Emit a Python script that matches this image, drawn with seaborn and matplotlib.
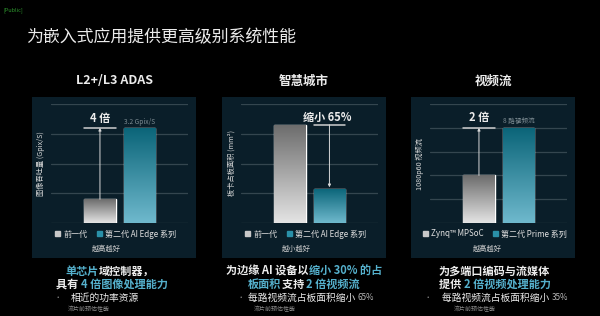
import numpy as np
import matplotlib
matplotlib.use('Agg')
import matplotlib.pyplot as plt
import matplotlib.patches as mpatches
from matplotlib.colors import to_rgb
import seaborn as sns

# 数据
panel_titles = ["L2+/L3 ADAS", "智慧城市", "视频流"]
adas_cats = ["前一代", "第二代 AI Edge 系列"]
adas_values = [0.8, 3.2]
city_cats = ["前一代", "第二代 AI Edge 系列"]
city_values = [3.3, 1.15]
video_cats = ["Zynq™ MPSoC", "第二代 Prime 系列"]
video_values = [4, 8]
y_labels = ["图像吞吐量 (Gpix/S)", "板卡占板面积 (mm²)", "1080p60 视频流"]
y_max = [4, 4, 10]
y_step = [1, 1, 2]
better_text = ["越高越好", "越小越好", "越高越好"]

sns.set_theme(style="white")
plt.rcParams['font.family'] = ['Noto Sans CJK SC', 'DejaVu Sans']

W, H = 600, 316
fig = plt.figure(figsize=(6, 3.16), dpi=100)
fig.patch.set_facecolor('black')

PANEL_BG = '#0a1e29'
GRID = '#34464f'
TEAL_TXT = '#55b0cc'
WHITE = '#ececec'


def fx(px):
    return px / W


def fy(py):
    return 1 - py / H


def gradient_bar(ax, patch, top_color, bottom_color):
    x0, y0 = patch.get_x(), patch.get_y()
    w, h = patch.get_width(), patch.get_height()
    n = 128
    b = np.array(to_rgb(bottom_color))
    t = np.array(to_rgb(top_color))
    k = np.linspace(0, 1, n)[:, None]
    img = (b * (1 - k) + t * k)[:, None, :]
    im = ax.imshow(img, extent=[x0, x0 + w, y0, y0 + h], origin='lower',
                   aspect='auto', zorder=3, interpolation='bilinear')
    im.set_clip_path(patch)


# 标题
fig.text(fx(3), fy(10), "[Public]", color='#2f9a2f', fontsize=4, va='center')
fig.text(fx(26), fy(37), "为嵌入式应用提供更高级别系统性能", color=WHITE,
         fontsize=12.2, va='center', fontweight='medium')

cats_all = [adas_cats, city_cats, video_cats]
vals_all = [adas_values, city_values, video_values]
offsets = [0, 190, 379]

axes = []
for i in range(3):
    off = offsets[i]
    # 面板背景
    fig.add_artist(mpatches.Rectangle((fx(32 + off), fy(258)), 164 / W, 161 / H,
                                      transform=fig.transFigure, facecolor=PANEL_BG,
                                      edgecolor='none', zorder=-1))
    fig.text(fx(114 + off), fy(81), panel_titles[i], color=WHITE, fontsize=9,
             ha='center', va='center', fontweight='bold')

    ax = fig.add_axes([fx(51 + off), fy(223), 137 / W, 119 / H])
    ax.set_facecolor('none')
    sns.barplot(x=cats_all[i], y=vals_all[i], hue=cats_all[i],
                palette=['#b0b0b0', '#2a8ea6'], legend=False, width=0.8,
                ax=ax, zorder=2)
    bars = ax.patches
    gradient_bar(ax, bars[0], '#6c6c6c', '#e4e4e4')
    gradient_bar(ax, bars[1], '#0a6478', '#6fb9cd')
    ax.set_xlim(-1.24, 2.23)
    ax.set_ylim(0, y_max[i])
    ax.set_yticks(np.arange(0, y_max[i] + 0.01, y_step[i]))
    ax.yaxis.grid(True, color=GRID, lw=0.9)
    ax.xaxis.grid(False)
    ax.set_axisbelow(True)
    for s in ax.spines.values():
        s.set_visible(False)
    ax.tick_params(left=False, bottom=False, labelleft=False, labelbottom=False)
    ax.set_xlabel("")
    ax.set_ylabel(y_labels[i], color='#d8d8d8', fontsize=5.2, labelpad=4,
                  fontweight='medium')

    handles = [mpatches.Patch(color='#c8c8c8'), mpatches.Patch(color='#2a90a8')]
    legend_cx = [115.5, 305.5, 495][i]
    leg = ax.legend(handles, cats_all[i], loc='center',
                    bbox_to_anchor=(fx(legend_cx), fy(234)),
                    bbox_transform=fig.transFigure, ncol=2, frameon=False,
                    handlelength=0.6, handleheight=0.6, columnspacing=1.2,
                    handletextpad=0.4, fontsize=5.8)
    for t in leg.get_texts():
        t.set_color('#e0e0e0')
    fig.text(fx([106, 296, 487][i]), fy(249), better_text[i], color='#d0d0d0',
             fontsize=5.2, style='italic', ha='center', va='center')
    axes.append(ax)

arrow_kw = dict(arrowstyle='-|>', color='#d8d8d8', lw=0.7, mutation_scale=4,
                shrinkA=0, shrinkB=0)

# ADAS 注释
ax = axes[0]
ax.plot([-0.4, 0.4], [adas_values[1], adas_values[1]], color='#cfcfcf', lw=1.1, zorder=4)
ax.annotate("", xy=(0, adas_values[1]), xytext=(0, adas_values[0]),
            arrowprops=arrow_kw, zorder=4)
ax.text(0, 3.5, "4 倍", color=WHITE, fontsize=8, fontweight='bold',
        ha='center', va='center')
ax.text(1, 3.27, "3.2 Gpix/S", color='#7d8c93', fontsize=4.8, ha='center', va='bottom')

# 智慧城市注释
ax = axes[1]
ax.plot([0.6, 1.4], [city_values[0], city_values[0]], color='#cfcfcf', lw=1.1, zorder=4)
ax.annotate("", xy=(1, city_values[1] + 0.05), xytext=(1, city_values[0]),
            arrowprops=arrow_kw, zorder=4)
ax.text(0.95, 3.56, "缩小 65%", color=WHITE, fontsize=8, fontweight='bold',
        ha='center', va='center')

# 视频流注释
ax = axes[2]
ax.plot([-0.4, 0.4], [video_values[1], video_values[1]], color='#cfcfcf', lw=1.1, zorder=4)
ax.annotate("", xy=(0, video_values[1]), xytext=(0, video_values[0]),
            arrowprops=arrow_kw, zorder=4)
ax.text(0, 8.9, "2 倍", color=WHITE, fontsize=8, fontweight='bold',
        ha='center', va='center')
ax.text(1, 8.2, "8 路视频流", color='#7d8c93', fontsize=4.8, ha='center', va='bottom')

# 底部文字
renderer = fig.canvas.get_renderer()


def rich_line(x, y, pieces, size, weight='medium', align='center'):
    texts, widths = [], []
    for s, c, sz in pieces:
        t = fig.text(0, fy(y), s, color=c, fontsize=sz or size, fontweight=weight,
                     ha='left', va='center')
        texts.append(t)
        widths.append(t.get_window_extent(renderer).width)
    total = sum(widths)
    cur = x - total / 2 if align == 'center' else x
    for t, w in zip(texts, widths):
        t.set_x(fx(cur))
        cur += w


rich_line(110, 271, [("单芯片", TEAL_TXT, None), ("域控制器，", WHITE, None)], 8, 'bold')
rich_line(112, 284, [("具有 ", WHITE, None), ("4 倍图像处理能力", TEAL_TXT, None)], 8, 'bold')
rich_line(304, 271, [("为边缘 AI 设备以", WHITE, None), ("缩小 30% 的占", TEAL_TXT, None)], 8, 'bold')
rich_line(304, 284, [("板面积", TEAL_TXT, None), ("支持 ", WHITE, None),
                     ("2 倍视频流", TEAL_TXT, None)], 8, 'bold')
rich_line(494, 271, [("为多端口编码与流媒体", WHITE, None)], 8, 'bold')
rich_line(495, 284, [("提供 ", WHITE, None), ("2 倍视频处理能力", TEAL_TXT, None)], 8, 'bold')

bullets = [(58, 71, [("相近的功率资源", WHITE, None)]),
           (241, 248, [("每路视频流占板面积缩小 ", WHITE, None), ("65%", '#b8b8b8', 5.8)]),
           (428, 442, [("每路视频流占板面积缩小 ", WHITE, None), ("35%", '#b8b8b8', 5.8)])]
for bx, tx, pieces in bullets:
    fig.text(fx(bx), fy(298), "•", color='#9a9a9a', fontsize=4.5, ha='center', va='center')
    rich_line(tx, 298, pieces, 7, weight='medium', align='left')

for nx in [68, 254, 454]:
    fig.text(fx(nx), fy(309), "流片前预估性能", color='#8a8a8a', fontsize=4.3,
             ha='left', va='center')

fig.savefig('out.png', dpi=100, facecolor='black')
